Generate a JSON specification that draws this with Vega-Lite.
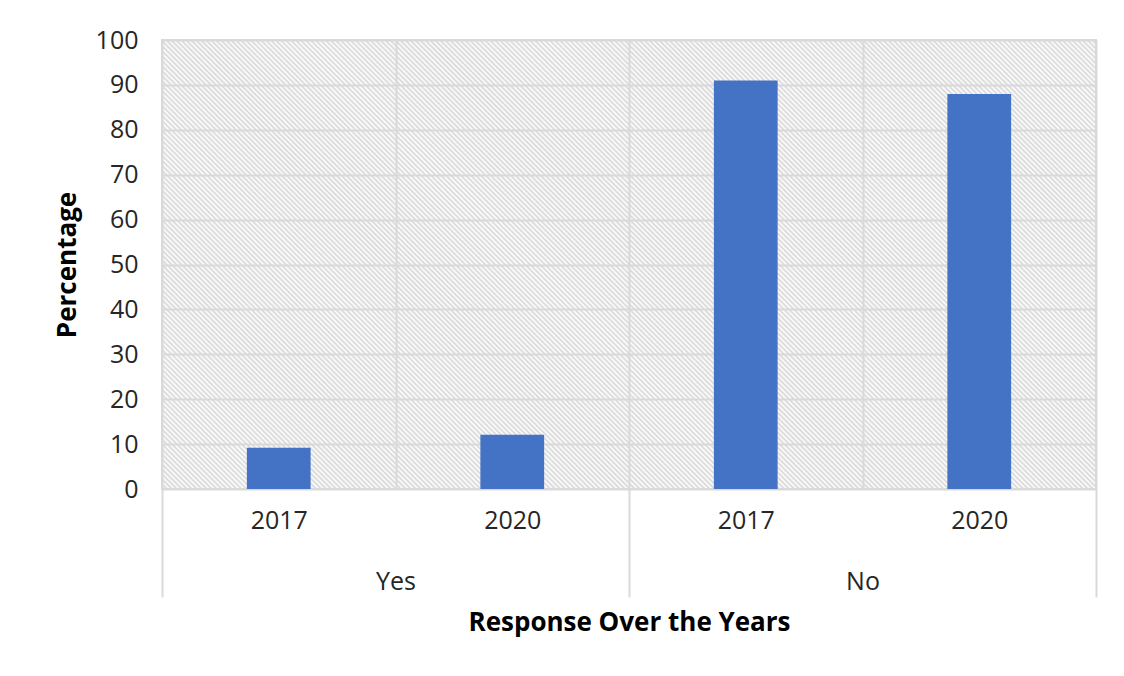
{
  "$schema": "https://vega.github.io/schema/vega-lite/v6.json",
  "width": 934,
  "height": 449,
  "autosize": {"type": "none"},
  "padding": {"left": 162, "top": 40, "right": 28, "bottom": 187},
  "background": "white",
  "config": {
    "font": "Open Sans",
    "view": {
      "stroke": "#d9d9d9",
      "strokeWidth": 2,
      "fill": {
        "gradient": "linear",
        "x1": 0, "y1": 1, "x2": 1.2028, "y2": 0.4218,
        "stops": [
          {"offset":0,"color":"#d6d6d6"},{"offset":0.0018,"color":"#ffffff"},{"offset":0.0036,"color":"#d6d6d6"},{"offset":0.0054,"color":"#ffffff"},{"offset":0.0072,"color":"#d6d6d6"},{"offset":0.009,"color":"#ffffff"},{"offset":0.0108,"color":"#d6d6d6"},{"offset":0.0126,"color":"#ffffff"},{"offset":0.0144,"color":"#d6d6d6"},{"offset":0.0162,"color":"#ffffff"},
          {"offset":0.018,"color":"#d6d6d6"},{"offset":0.0198,"color":"#ffffff"},{"offset":0.0216,"color":"#d6d6d6"},{"offset":0.0234,"color":"#ffffff"},{"offset":0.0252,"color":"#d6d6d6"},{"offset":0.027,"color":"#ffffff"},{"offset":0.0288,"color":"#d6d6d6"},{"offset":0.0306,"color":"#ffffff"},{"offset":0.0324,"color":"#d6d6d6"},{"offset":0.0342,"color":"#ffffff"},
          {"offset":0.036,"color":"#d6d6d6"},{"offset":0.0378,"color":"#ffffff"},{"offset":0.0396,"color":"#d6d6d6"},{"offset":0.0414,"color":"#ffffff"},{"offset":0.0432,"color":"#d6d6d6"},{"offset":0.045,"color":"#ffffff"},{"offset":0.0468,"color":"#d6d6d6"},{"offset":0.0486,"color":"#ffffff"},{"offset":0.0504,"color":"#d6d6d6"},{"offset":0.0522,"color":"#ffffff"},
          {"offset":0.054,"color":"#d6d6d6"},{"offset":0.0558,"color":"#ffffff"},{"offset":0.0576,"color":"#d6d6d6"},{"offset":0.0594,"color":"#ffffff"},{"offset":0.0612,"color":"#d6d6d6"},{"offset":0.063,"color":"#ffffff"},{"offset":0.0648,"color":"#d6d6d6"},{"offset":0.0666,"color":"#ffffff"},{"offset":0.0684,"color":"#d6d6d6"},{"offset":0.0702,"color":"#ffffff"},
          {"offset":0.072,"color":"#d6d6d6"},{"offset":0.0738,"color":"#ffffff"},{"offset":0.0756,"color":"#d6d6d6"},{"offset":0.0774,"color":"#ffffff"},{"offset":0.0792,"color":"#d6d6d6"},{"offset":0.081,"color":"#ffffff"},{"offset":0.0828,"color":"#d6d6d6"},{"offset":0.0846,"color":"#ffffff"},{"offset":0.0864,"color":"#d6d6d6"},{"offset":0.0882,"color":"#ffffff"},
          {"offset":0.09,"color":"#d6d6d6"},{"offset":0.0918,"color":"#ffffff"},{"offset":0.0936,"color":"#d6d6d6"},{"offset":0.0954,"color":"#ffffff"},{"offset":0.0972,"color":"#d6d6d6"},{"offset":0.099,"color":"#ffffff"},{"offset":0.1008,"color":"#d6d6d6"},{"offset":0.1026,"color":"#ffffff"},{"offset":0.1044,"color":"#d6d6d6"},{"offset":0.1062,"color":"#ffffff"},
          {"offset":0.108,"color":"#d6d6d6"},{"offset":0.1098,"color":"#ffffff"},{"offset":0.1116,"color":"#d6d6d6"},{"offset":0.1134,"color":"#ffffff"},{"offset":0.1152,"color":"#d6d6d6"},{"offset":0.117,"color":"#ffffff"},{"offset":0.1188,"color":"#d6d6d6"},{"offset":0.1206,"color":"#ffffff"},{"offset":0.1224,"color":"#d6d6d6"},{"offset":0.1242,"color":"#ffffff"},
          {"offset":0.126,"color":"#d6d6d6"},{"offset":0.1278,"color":"#ffffff"},{"offset":0.1296,"color":"#d6d6d6"},{"offset":0.1314,"color":"#ffffff"},{"offset":0.1332,"color":"#d6d6d6"},{"offset":0.135,"color":"#ffffff"},{"offset":0.1368,"color":"#d6d6d6"},{"offset":0.1386,"color":"#ffffff"},{"offset":0.1404,"color":"#d6d6d6"},{"offset":0.1422,"color":"#ffffff"},
          {"offset":0.144,"color":"#d6d6d6"},{"offset":0.1458,"color":"#ffffff"},{"offset":0.1476,"color":"#d6d6d6"},{"offset":0.1494,"color":"#ffffff"},{"offset":0.1512,"color":"#d6d6d6"},{"offset":0.153,"color":"#ffffff"},{"offset":0.1548,"color":"#d6d6d6"},{"offset":0.1566,"color":"#ffffff"},{"offset":0.1584,"color":"#d6d6d6"},{"offset":0.1602,"color":"#ffffff"},
          {"offset":0.162,"color":"#d6d6d6"},{"offset":0.1638,"color":"#ffffff"},{"offset":0.1656,"color":"#d6d6d6"},{"offset":0.1674,"color":"#ffffff"},{"offset":0.1692,"color":"#d6d6d6"},{"offset":0.171,"color":"#ffffff"},{"offset":0.1728,"color":"#d6d6d6"},{"offset":0.1746,"color":"#ffffff"},{"offset":0.1764,"color":"#d6d6d6"},{"offset":0.1782,"color":"#ffffff"},
          {"offset":0.18,"color":"#d6d6d6"},{"offset":0.1818,"color":"#ffffff"},{"offset":0.1836,"color":"#d6d6d6"},{"offset":0.1854,"color":"#ffffff"},{"offset":0.1872,"color":"#d6d6d6"},{"offset":0.189,"color":"#ffffff"},{"offset":0.1908,"color":"#d6d6d6"},{"offset":0.1926,"color":"#ffffff"},{"offset":0.1944,"color":"#d6d6d6"},{"offset":0.1962,"color":"#ffffff"},
          {"offset":0.198,"color":"#d6d6d6"},{"offset":0.1998,"color":"#ffffff"},{"offset":0.2016,"color":"#d6d6d6"},{"offset":0.2034,"color":"#ffffff"},{"offset":0.2052,"color":"#d6d6d6"},{"offset":0.207,"color":"#ffffff"},{"offset":0.2088,"color":"#d6d6d6"},{"offset":0.2106,"color":"#ffffff"},{"offset":0.2124,"color":"#d6d6d6"},{"offset":0.2142,"color":"#ffffff"},
          {"offset":0.216,"color":"#d6d6d6"},{"offset":0.2178,"color":"#ffffff"},{"offset":0.2196,"color":"#d6d6d6"},{"offset":0.2214,"color":"#ffffff"},{"offset":0.2232,"color":"#d6d6d6"},{"offset":0.225,"color":"#ffffff"},{"offset":0.2268,"color":"#d6d6d6"},{"offset":0.2286,"color":"#ffffff"},{"offset":0.2304,"color":"#d6d6d6"},{"offset":0.2322,"color":"#ffffff"},
          {"offset":0.234,"color":"#d6d6d6"},{"offset":0.2358,"color":"#ffffff"},{"offset":0.2376,"color":"#d6d6d6"},{"offset":0.2394,"color":"#ffffff"},{"offset":0.2412,"color":"#d6d6d6"},{"offset":0.243,"color":"#ffffff"},{"offset":0.2448,"color":"#d6d6d6"},{"offset":0.2466,"color":"#ffffff"},{"offset":0.2484,"color":"#d6d6d6"},{"offset":0.2502,"color":"#ffffff"},
          {"offset":0.252,"color":"#d6d6d6"},{"offset":0.2538,"color":"#ffffff"},{"offset":0.2556,"color":"#d6d6d6"},{"offset":0.2574,"color":"#ffffff"},{"offset":0.2592,"color":"#d6d6d6"},{"offset":0.261,"color":"#ffffff"},{"offset":0.2628,"color":"#d6d6d6"},{"offset":0.2646,"color":"#ffffff"},{"offset":0.2664,"color":"#d6d6d6"},{"offset":0.2682,"color":"#ffffff"},
          {"offset":0.27,"color":"#d6d6d6"},{"offset":0.2718,"color":"#ffffff"},{"offset":0.2736,"color":"#d6d6d6"},{"offset":0.2754,"color":"#ffffff"},{"offset":0.2772,"color":"#d6d6d6"},{"offset":0.279,"color":"#ffffff"},{"offset":0.2808,"color":"#d6d6d6"},{"offset":0.2826,"color":"#ffffff"},{"offset":0.2844,"color":"#d6d6d6"},{"offset":0.2862,"color":"#ffffff"},
          {"offset":0.288,"color":"#d6d6d6"},{"offset":0.2898,"color":"#ffffff"},{"offset":0.2916,"color":"#d6d6d6"},{"offset":0.2934,"color":"#ffffff"},{"offset":0.2952,"color":"#d6d6d6"},{"offset":0.297,"color":"#ffffff"},{"offset":0.2988,"color":"#d6d6d6"},{"offset":0.3006,"color":"#ffffff"},{"offset":0.3024,"color":"#d6d6d6"},{"offset":0.3042,"color":"#ffffff"},
          {"offset":0.306,"color":"#d6d6d6"},{"offset":0.3078,"color":"#ffffff"},{"offset":0.3096,"color":"#d6d6d6"},{"offset":0.3114,"color":"#ffffff"},{"offset":0.3132,"color":"#d6d6d6"},{"offset":0.315,"color":"#ffffff"},{"offset":0.3168,"color":"#d6d6d6"},{"offset":0.3186,"color":"#ffffff"},{"offset":0.3204,"color":"#d6d6d6"},{"offset":0.3222,"color":"#ffffff"},
          {"offset":0.324,"color":"#d6d6d6"},{"offset":0.3258,"color":"#ffffff"},{"offset":0.3276,"color":"#d6d6d6"},{"offset":0.3294,"color":"#ffffff"},{"offset":0.3312,"color":"#d6d6d6"},{"offset":0.333,"color":"#ffffff"},{"offset":0.3348,"color":"#d6d6d6"},{"offset":0.3366,"color":"#ffffff"},{"offset":0.3384,"color":"#d6d6d6"},{"offset":0.3402,"color":"#ffffff"},
          {"offset":0.342,"color":"#d6d6d6"},{"offset":0.3438,"color":"#ffffff"},{"offset":0.3456,"color":"#d6d6d6"},{"offset":0.3474,"color":"#ffffff"},{"offset":0.3492,"color":"#d6d6d6"},{"offset":0.351,"color":"#ffffff"},{"offset":0.3528,"color":"#d6d6d6"},{"offset":0.3546,"color":"#ffffff"},{"offset":0.3564,"color":"#d6d6d6"},{"offset":0.3582,"color":"#ffffff"},
          {"offset":0.36,"color":"#d6d6d6"},{"offset":0.3618,"color":"#ffffff"},{"offset":0.3636,"color":"#d6d6d6"},{"offset":0.3654,"color":"#ffffff"},{"offset":0.3672,"color":"#d6d6d6"},{"offset":0.369,"color":"#ffffff"},{"offset":0.3708,"color":"#d6d6d6"},{"offset":0.3726,"color":"#ffffff"},{"offset":0.3744,"color":"#d6d6d6"},{"offset":0.3762,"color":"#ffffff"},
          {"offset":0.378,"color":"#d6d6d6"},{"offset":0.3798,"color":"#ffffff"},{"offset":0.3816,"color":"#d6d6d6"},{"offset":0.3834,"color":"#ffffff"},{"offset":0.3852,"color":"#d6d6d6"},{"offset":0.387,"color":"#ffffff"},{"offset":0.3888,"color":"#d6d6d6"},{"offset":0.3906,"color":"#ffffff"},{"offset":0.3924,"color":"#d6d6d6"},{"offset":0.3942,"color":"#ffffff"},
          {"offset":0.396,"color":"#d6d6d6"},{"offset":0.3978,"color":"#ffffff"},{"offset":0.3996,"color":"#d6d6d6"},{"offset":0.4014,"color":"#ffffff"},{"offset":0.4032,"color":"#d6d6d6"},{"offset":0.405,"color":"#ffffff"},{"offset":0.4068,"color":"#d6d6d6"},{"offset":0.4086,"color":"#ffffff"},{"offset":0.4104,"color":"#d6d6d6"},{"offset":0.4122,"color":"#ffffff"},
          {"offset":0.414,"color":"#d6d6d6"},{"offset":0.4158,"color":"#ffffff"},{"offset":0.4176,"color":"#d6d6d6"},{"offset":0.4194,"color":"#ffffff"},{"offset":0.4212,"color":"#d6d6d6"},{"offset":0.423,"color":"#ffffff"},{"offset":0.4248,"color":"#d6d6d6"},{"offset":0.4266,"color":"#ffffff"},{"offset":0.4284,"color":"#d6d6d6"},{"offset":0.4302,"color":"#ffffff"},
          {"offset":0.432,"color":"#d6d6d6"},{"offset":0.4338,"color":"#ffffff"},{"offset":0.4356,"color":"#d6d6d6"},{"offset":0.4374,"color":"#ffffff"},{"offset":0.4392,"color":"#d6d6d6"},{"offset":0.441,"color":"#ffffff"},{"offset":0.4428,"color":"#d6d6d6"},{"offset":0.4446,"color":"#ffffff"},{"offset":0.4464,"color":"#d6d6d6"},{"offset":0.4482,"color":"#ffffff"},
          {"offset":0.45,"color":"#d6d6d6"},{"offset":0.4518,"color":"#ffffff"},{"offset":0.4536,"color":"#d6d6d6"},{"offset":0.4554,"color":"#ffffff"},{"offset":0.4572,"color":"#d6d6d6"},{"offset":0.459,"color":"#ffffff"},{"offset":0.4608,"color":"#d6d6d6"},{"offset":0.4626,"color":"#ffffff"},{"offset":0.4644,"color":"#d6d6d6"},{"offset":0.4662,"color":"#ffffff"},
          {"offset":0.468,"color":"#d6d6d6"},{"offset":0.4698,"color":"#ffffff"},{"offset":0.4716,"color":"#d6d6d6"},{"offset":0.4734,"color":"#ffffff"},{"offset":0.4752,"color":"#d6d6d6"},{"offset":0.477,"color":"#ffffff"},{"offset":0.4788,"color":"#d6d6d6"},{"offset":0.4806,"color":"#ffffff"},{"offset":0.4824,"color":"#d6d6d6"},{"offset":0.4842,"color":"#ffffff"},
          {"offset":0.486,"color":"#d6d6d6"},{"offset":0.4878,"color":"#ffffff"},{"offset":0.4896,"color":"#d6d6d6"},{"offset":0.4914,"color":"#ffffff"},{"offset":0.4932,"color":"#d6d6d6"},{"offset":0.495,"color":"#ffffff"},{"offset":0.4968,"color":"#d6d6d6"},{"offset":0.4986,"color":"#ffffff"},{"offset":0.5004,"color":"#d6d6d6"},{"offset":0.5022,"color":"#ffffff"},
          {"offset":0.504,"color":"#d6d6d6"},{"offset":0.5058,"color":"#ffffff"},{"offset":0.5076,"color":"#d6d6d6"},{"offset":0.5094,"color":"#ffffff"},{"offset":0.5112,"color":"#d6d6d6"},{"offset":0.513,"color":"#ffffff"},{"offset":0.5148,"color":"#d6d6d6"},{"offset":0.5166,"color":"#ffffff"},{"offset":0.5184,"color":"#d6d6d6"},{"offset":0.5202,"color":"#ffffff"},
          {"offset":0.522,"color":"#d6d6d6"},{"offset":0.5238,"color":"#ffffff"},{"offset":0.5256,"color":"#d6d6d6"},{"offset":0.5274,"color":"#ffffff"},{"offset":0.5292,"color":"#d6d6d6"},{"offset":0.531,"color":"#ffffff"},{"offset":0.5328,"color":"#d6d6d6"},{"offset":0.5346,"color":"#ffffff"},{"offset":0.5364,"color":"#d6d6d6"},{"offset":0.5382,"color":"#ffffff"},
          {"offset":0.54,"color":"#d6d6d6"},{"offset":0.5418,"color":"#ffffff"},{"offset":0.5436,"color":"#d6d6d6"},{"offset":0.5454,"color":"#ffffff"},{"offset":0.5472,"color":"#d6d6d6"},{"offset":0.549,"color":"#ffffff"},{"offset":0.5508,"color":"#d6d6d6"},{"offset":0.5526,"color":"#ffffff"},{"offset":0.5544,"color":"#d6d6d6"},{"offset":0.5562,"color":"#ffffff"},
          {"offset":0.558,"color":"#d6d6d6"},{"offset":0.5598,"color":"#ffffff"},{"offset":0.5616,"color":"#d6d6d6"},{"offset":0.5634,"color":"#ffffff"},{"offset":0.5652,"color":"#d6d6d6"},{"offset":0.567,"color":"#ffffff"},{"offset":0.5688,"color":"#d6d6d6"},{"offset":0.5706,"color":"#ffffff"},{"offset":0.5724,"color":"#d6d6d6"},{"offset":0.5742,"color":"#ffffff"},
          {"offset":0.576,"color":"#d6d6d6"},{"offset":0.5778,"color":"#ffffff"},{"offset":0.5796,"color":"#d6d6d6"},{"offset":0.5814,"color":"#ffffff"},{"offset":0.5832,"color":"#d6d6d6"},{"offset":0.585,"color":"#ffffff"},{"offset":0.5868,"color":"#d6d6d6"},{"offset":0.5886,"color":"#ffffff"},{"offset":0.5904,"color":"#d6d6d6"},{"offset":0.5922,"color":"#ffffff"},
          {"offset":0.594,"color":"#d6d6d6"},{"offset":0.5958,"color":"#ffffff"},{"offset":0.5976,"color":"#d6d6d6"},{"offset":0.5994,"color":"#ffffff"},{"offset":0.6012,"color":"#d6d6d6"},{"offset":0.603,"color":"#ffffff"},{"offset":0.6048,"color":"#d6d6d6"},{"offset":0.6066,"color":"#ffffff"},{"offset":0.6084,"color":"#d6d6d6"},{"offset":0.6102,"color":"#ffffff"},
          {"offset":0.612,"color":"#d6d6d6"},{"offset":0.6138,"color":"#ffffff"},{"offset":0.6156,"color":"#d6d6d6"},{"offset":0.6174,"color":"#ffffff"},{"offset":0.6192,"color":"#d6d6d6"},{"offset":0.621,"color":"#ffffff"},{"offset":0.6228,"color":"#d6d6d6"},{"offset":0.6246,"color":"#ffffff"},{"offset":0.6264,"color":"#d6d6d6"},{"offset":0.6282,"color":"#ffffff"},
          {"offset":0.63,"color":"#d6d6d6"},{"offset":0.6318,"color":"#ffffff"},{"offset":0.6336,"color":"#d6d6d6"},{"offset":0.6354,"color":"#ffffff"},{"offset":0.6372,"color":"#d6d6d6"},{"offset":0.639,"color":"#ffffff"},{"offset":0.6408,"color":"#d6d6d6"},{"offset":0.6426,"color":"#ffffff"},{"offset":0.6444,"color":"#d6d6d6"},{"offset":0.6462,"color":"#ffffff"},
          {"offset":0.648,"color":"#d6d6d6"},{"offset":0.6498,"color":"#ffffff"},{"offset":0.6516,"color":"#d6d6d6"},{"offset":0.6534,"color":"#ffffff"},{"offset":0.6552,"color":"#d6d6d6"},{"offset":0.657,"color":"#ffffff"},{"offset":0.6588,"color":"#d6d6d6"},{"offset":0.6606,"color":"#ffffff"},{"offset":0.6624,"color":"#d6d6d6"},{"offset":0.6642,"color":"#ffffff"},
          {"offset":0.666,"color":"#d6d6d6"},{"offset":0.6678,"color":"#ffffff"},{"offset":0.6696,"color":"#d6d6d6"},{"offset":0.6714,"color":"#ffffff"},{"offset":0.6732,"color":"#d6d6d6"},{"offset":0.675,"color":"#ffffff"},{"offset":0.6768,"color":"#d6d6d6"},{"offset":0.6786,"color":"#ffffff"},{"offset":0.6804,"color":"#d6d6d6"},{"offset":0.6822,"color":"#ffffff"},
          {"offset":0.684,"color":"#d6d6d6"},{"offset":0.6858,"color":"#ffffff"},{"offset":0.6876,"color":"#d6d6d6"},{"offset":0.6894,"color":"#ffffff"},{"offset":0.6912,"color":"#d6d6d6"},{"offset":0.693,"color":"#ffffff"},{"offset":0.6948,"color":"#d6d6d6"},{"offset":0.6966,"color":"#ffffff"},{"offset":0.6984,"color":"#d6d6d6"},{"offset":0.7002,"color":"#ffffff"},
          {"offset":0.702,"color":"#d6d6d6"},{"offset":0.7038,"color":"#ffffff"},{"offset":0.7056,"color":"#d6d6d6"},{"offset":0.7074,"color":"#ffffff"},{"offset":0.7092,"color":"#d6d6d6"},{"offset":0.711,"color":"#ffffff"},{"offset":0.7128,"color":"#d6d6d6"},{"offset":0.7146,"color":"#ffffff"},{"offset":0.7164,"color":"#d6d6d6"},{"offset":0.7182,"color":"#ffffff"},
          {"offset":0.72,"color":"#d6d6d6"},{"offset":0.7218,"color":"#ffffff"},{"offset":0.7236,"color":"#d6d6d6"},{"offset":0.7254,"color":"#ffffff"},{"offset":0.7272,"color":"#d6d6d6"},{"offset":0.729,"color":"#ffffff"},{"offset":0.7308,"color":"#d6d6d6"},{"offset":0.7326,"color":"#ffffff"},{"offset":0.7344,"color":"#d6d6d6"},{"offset":0.7362,"color":"#ffffff"},
          {"offset":0.738,"color":"#d6d6d6"},{"offset":0.7398,"color":"#ffffff"},{"offset":0.7416,"color":"#d6d6d6"},{"offset":0.7434,"color":"#ffffff"},{"offset":0.7452,"color":"#d6d6d6"},{"offset":0.747,"color":"#ffffff"},{"offset":0.7488,"color":"#d6d6d6"},{"offset":0.7506,"color":"#ffffff"},{"offset":0.7524,"color":"#d6d6d6"},{"offset":0.7542,"color":"#ffffff"},
          {"offset":0.756,"color":"#d6d6d6"},{"offset":0.7578,"color":"#ffffff"},{"offset":0.7596,"color":"#d6d6d6"},{"offset":0.7614,"color":"#ffffff"},{"offset":0.7632,"color":"#d6d6d6"},{"offset":0.765,"color":"#ffffff"},{"offset":0.7668,"color":"#d6d6d6"},{"offset":0.7686,"color":"#ffffff"},{"offset":0.7704,"color":"#d6d6d6"},{"offset":0.7722,"color":"#ffffff"},
          {"offset":0.774,"color":"#d6d6d6"},{"offset":0.7758,"color":"#ffffff"},{"offset":0.7776,"color":"#d6d6d6"},{"offset":0.7794,"color":"#ffffff"},{"offset":0.7812,"color":"#d6d6d6"},{"offset":0.783,"color":"#ffffff"},{"offset":0.7848,"color":"#d6d6d6"},{"offset":0.7866,"color":"#ffffff"},{"offset":0.7884,"color":"#d6d6d6"},{"offset":0.7902,"color":"#ffffff"},
          {"offset":0.792,"color":"#d6d6d6"},{"offset":0.7938,"color":"#ffffff"},{"offset":0.7956,"color":"#d6d6d6"},{"offset":0.7974,"color":"#ffffff"},{"offset":0.7992,"color":"#d6d6d6"},{"offset":0.801,"color":"#ffffff"},{"offset":0.8028,"color":"#d6d6d6"},{"offset":0.8046,"color":"#ffffff"},{"offset":0.8064,"color":"#d6d6d6"},{"offset":0.8082,"color":"#ffffff"},
          {"offset":0.81,"color":"#d6d6d6"},{"offset":0.8118,"color":"#ffffff"},{"offset":0.8136,"color":"#d6d6d6"},{"offset":0.8154,"color":"#ffffff"},{"offset":0.8172,"color":"#d6d6d6"},{"offset":0.819,"color":"#ffffff"},{"offset":0.8208,"color":"#d6d6d6"},{"offset":0.8226,"color":"#ffffff"},{"offset":0.8244,"color":"#d6d6d6"},{"offset":0.8262,"color":"#ffffff"},
          {"offset":0.828,"color":"#d6d6d6"},{"offset":0.8298,"color":"#ffffff"},{"offset":0.8316,"color":"#d6d6d6"},{"offset":0.8334,"color":"#ffffff"},{"offset":0.8352,"color":"#d6d6d6"},{"offset":0.837,"color":"#ffffff"},{"offset":0.8388,"color":"#d6d6d6"},{"offset":0.8406,"color":"#ffffff"},{"offset":0.8424,"color":"#d6d6d6"},{"offset":0.8442,"color":"#ffffff"},
          {"offset":0.846,"color":"#d6d6d6"},{"offset":0.8478,"color":"#ffffff"},{"offset":0.8496,"color":"#d6d6d6"},{"offset":0.8514,"color":"#ffffff"},{"offset":0.8532,"color":"#d6d6d6"},{"offset":0.855,"color":"#ffffff"},{"offset":0.8568,"color":"#d6d6d6"},{"offset":0.8586,"color":"#ffffff"},{"offset":0.8604,"color":"#d6d6d6"},{"offset":0.8622,"color":"#ffffff"},
          {"offset":0.864,"color":"#d6d6d6"},{"offset":0.8658,"color":"#ffffff"},{"offset":0.8676,"color":"#d6d6d6"},{"offset":0.8694,"color":"#ffffff"},{"offset":0.8712,"color":"#d6d6d6"},{"offset":0.873,"color":"#ffffff"},{"offset":0.8748,"color":"#d6d6d6"},{"offset":0.8766,"color":"#ffffff"},{"offset":0.8784,"color":"#d6d6d6"},{"offset":0.8802,"color":"#ffffff"},
          {"offset":0.882,"color":"#d6d6d6"},{"offset":0.8838,"color":"#ffffff"},{"offset":0.8856,"color":"#d6d6d6"},{"offset":0.8874,"color":"#ffffff"},{"offset":0.8892,"color":"#d6d6d6"},{"offset":0.891,"color":"#ffffff"},{"offset":0.8928,"color":"#d6d6d6"},{"offset":0.8946,"color":"#ffffff"},{"offset":0.8964,"color":"#d6d6d6"},{"offset":0.8982,"color":"#ffffff"},
          {"offset":0.9,"color":"#d6d6d6"},{"offset":0.9018,"color":"#ffffff"},{"offset":0.9036,"color":"#d6d6d6"},{"offset":0.9054,"color":"#ffffff"},{"offset":0.9072,"color":"#d6d6d6"},{"offset":0.909,"color":"#ffffff"},{"offset":0.9108,"color":"#d6d6d6"},{"offset":0.9126,"color":"#ffffff"},{"offset":0.9144,"color":"#d6d6d6"},{"offset":0.9162,"color":"#ffffff"},
          {"offset":0.918,"color":"#d6d6d6"},{"offset":0.9198,"color":"#ffffff"},{"offset":0.9216,"color":"#d6d6d6"},{"offset":0.9234,"color":"#ffffff"},{"offset":0.9252,"color":"#d6d6d6"},{"offset":0.927,"color":"#ffffff"},{"offset":0.9288,"color":"#d6d6d6"},{"offset":0.9306,"color":"#ffffff"},{"offset":0.9324,"color":"#d6d6d6"},{"offset":0.9342,"color":"#ffffff"},
          {"offset":0.936,"color":"#d6d6d6"},{"offset":0.9378,"color":"#ffffff"},{"offset":0.9396,"color":"#d6d6d6"},{"offset":0.9414,"color":"#ffffff"},{"offset":0.9432,"color":"#d6d6d6"},{"offset":0.945,"color":"#ffffff"},{"offset":0.9468,"color":"#d6d6d6"},{"offset":0.9486,"color":"#ffffff"},{"offset":0.9504,"color":"#d6d6d6"},{"offset":0.9522,"color":"#ffffff"},
          {"offset":0.954,"color":"#d6d6d6"},{"offset":0.9558,"color":"#ffffff"},{"offset":0.9576,"color":"#d6d6d6"},{"offset":0.9594,"color":"#ffffff"},{"offset":0.9612,"color":"#d6d6d6"},{"offset":0.963,"color":"#ffffff"},{"offset":0.9648,"color":"#d6d6d6"},{"offset":0.9666,"color":"#ffffff"},{"offset":0.9684,"color":"#d6d6d6"},{"offset":0.9702,"color":"#ffffff"},
          {"offset":0.972,"color":"#d6d6d6"},{"offset":0.9738,"color":"#ffffff"},{"offset":0.9756,"color":"#d6d6d6"},{"offset":0.9774,"color":"#ffffff"},{"offset":0.9792,"color":"#d6d6d6"},{"offset":0.981,"color":"#ffffff"},{"offset":0.9828,"color":"#d6d6d6"},{"offset":0.9846,"color":"#ffffff"},{"offset":0.9864,"color":"#d6d6d6"},{"offset":0.9882,"color":"#ffffff"},
          {"offset":0.99,"color":"#d6d6d6"},{"offset":0.9918,"color":"#ffffff"},{"offset":0.9936,"color":"#d6d6d6"},{"offset":0.9954,"color":"#ffffff"},{"offset":0.9972,"color":"#d6d6d6"},{"offset":0.999,"color":"#ffffff"},{"offset":1,"color":"#d6d6d6"}
        ]
      }
    }
  },
  "data": {
    "values": [
      {"response": "Yes", "year": "2017", "key": "Yes 2017", "value": 9.2},
      {"response": "Yes", "year": "2020", "key": "Yes 2020", "value": 12.1},
      {"response": "No", "year": "2017", "key": "No 2017", "value": 91},
      {"response": "No", "year": "2020", "key": "No 2020", "value": 88}
    ]
  },
  "layer": [
    {
      "mark": {"type": "rect", "opacity": 0},
      "encoding": {
        "x": {
          "field": "response",
          "type": "nominal",
          "sort": ["Yes", "No"],
          "scale": {"paddingInner": 0, "paddingOuter": 0},
          "axis": {
            "orient": "bottom",
            "title": "Response Over the Years",
            "tickBand": "extent",
            "ticks": true,
            "tickSize": 108,
            "tickColor": "#d9d9d9",
            "tickWidth": 2,
            "domain": false,
            "grid": false,
            "labelAngle": 0,
            "labelPadding": -28,
            "labelFontSize": 25,
            "labelColor": "#262626",
            "titleFontSize": 26,
            "titleFontWeight": "bold",
            "titleColor": "#000000",
            "titlePadding": 11
          }
        },
        "y": {
          "datum": 0,
          "type": "quantitative",
          "scale": {"domain": [0, 100]},
          "axis": {
            "title": "Percentage",
            "values": [0, 10, 20, 30, 40, 50, 60, 70, 80, 90, 100],
            "grid": true,
            "gridColor": "#d9d9d9",
            "gridWidth": 2,
            "ticks": false,
            "domain": false,
            "labelPadding": 24,
            "labelFontSize": 25,
            "labelColor": "#262626",
            "titleFontSize": 26,
            "titleFontWeight": "bold",
            "titleColor": "#000000",
            "titlePadding": 15
          }
        },
        "y2": {"datum": 100}
      }
    },
    {
      "mark": {"type": "bar", "color": "#4472C4", "width": {"band": 0.273}},
      "encoding": {
        "x": {
          "field": "key",
          "type": "nominal",
          "sort": ["Yes 2017", "Yes 2020", "No 2017", "No 2020"],
          "scale": {"paddingInner": 0, "paddingOuter": 0},
          "axis": {
            "orient": "bottom",
            "title": null,
            "labelExpr": "split(datum.value, ' ')[1]",
            "tickBand": "extent",
            "grid": true,
            "gridColor": "#d9d9d9",
            "gridWidth": 2,
            "ticks": false,
            "domain": false,
            "labelAngle": 0,
            "labelPadding": 19,
            "labelFontSize": 25,
            "labelColor": "#262626"
          }
        },
        "y": {
          "field": "value",
          "type": "quantitative",
          "scale": {"domain": [0, 100]},
          "axis": {
            "title": "Percentage",
            "values": [0, 10, 20, 30, 40, 50, 60, 70, 80, 90, 100],
            "grid": true,
            "gridColor": "#d9d9d9",
            "gridWidth": 2,
            "ticks": false,
            "domain": false,
            "labelPadding": 24,
            "labelFontSize": 25,
            "labelColor": "#262626",
            "titleFontSize": 26,
            "titleFontWeight": "bold",
            "titleColor": "#000000",
            "titlePadding": 15
          }
        }
      }
    }
  ],
  "resolve": {"scale": {"x": "independent"}, "axis": {"x": "independent"}}
}
